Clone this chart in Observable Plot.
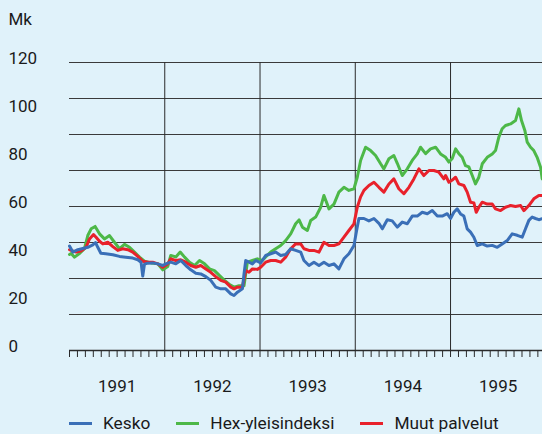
<!DOCTYPE html>
<html><head><meta charset="utf-8">
<script src="https://cdn.jsdelivr.net/npm/d3@7"></script>
<script src="https://cdn.jsdelivr.net/npm/@observablehq/plot@0.6"></script>
<style>
html,body{margin:0;padding:0;background:#e0f2fa;}
#wrap{width:542px;height:434px;overflow:hidden;position:relative;font-family:Roboto,sans-serif;color:#1a1a1a;}
#legend{display:flex;align-items:center;height:38px;padding-left:69px;gap:26px;font-size:17.3px;}
#legend .it{display:flex;align-items:center;gap:11px;}
#legend .sw{width:23px;height:3px;display:inline-block;}
</style></head>
<body><div id="wrap"><div id="chart"></div><div id="legend"></div></div>
<script>
const seriesNames = ["Kesko", "Hex-yleisindeksi", "Muut palvelut"];
const seriesColors = ["#3a6fb7", "#4db848", "#e8212b"];
const yTicks = [0, 20, 40, 60, 80, 100, 120];
const gridValues = [15, 30, 45, 60, 75, 90, 105, 120];
const yearBounds = [1992, 1993, 1994, 1995];
const yearLabels = ["1991", "1992", "1993", "1994", "1995"];
const unitLabel = "Mk";

// [decimal year, value]
const kesko = [
[1991.00,43.5],[1991.035,41],[1991.087,42],[1991.14,42.5],[1991.192,43],[1991.245,44],[1991.273,45],[1991.297,43],
[1991.329,40.5],[1991.381,40.3],[1991.455,39.9],[1991.525,39.2],[1991.591,38.9],[1991.664,38.5],[1991.717,37.8],
[1991.751,36.8],[1991.769,31],[1991.787,36],[1991.822,36.4],[1991.874,36.5],[1991.927,36.1],[1991.979,35.4],
[1992.010,36.1],[1992.063,36.8],[1992.116,36.1],[1992.168,37.5],[1992.221,35.4],[1992.273,33.6],[1992.326,32.2],
[1992.378,31.9],[1992.431,30.8],[1992.483,29.2],[1992.535,26.4],[1992.588,25.7],[1992.640,25.7],[1992.693,23.6],
[1992.727,22.9],[1992.763,24.3],[1992.815,25.7],[1992.832,31.9],[1992.850,37.5],[1992.884,36.8],[1992.920,36.1],
[1992.955,37.5],[1993.007,36.5],[1993.059,39.6],[1993.112,40.3],[1993.164,41],[1993.217,39.6],[1993.269,40],
[1993.322,42.4],[1993.374,41.7],[1993.427,41],[1993.461,37.5],[1993.514,35.4],[1993.566,36.8],[1993.619,35.4],
[1993.671,36.8],[1993.724,35.4],[1993.776,36.1],[1993.828,34],[1993.881,38.2],[1993.933,40.3],[1993.986,43.75],
[1994.014,50],[1994.038,55],[1994.091,55],[1994.143,54],[1994.196,55],[1994.248,53],[1994.284,50.7],[1994.336,54.5],
[1994.388,54],[1994.441,51.4],[1994.493,53.5],[1994.546,52.8],[1994.598,56],[1994.651,56],[1994.703,57.6],
[1994.756,57],[1994.808,58.3],[1994.861,56],[1994.913,56],[1994.965,57],[1995.000,55],[1995.035,57.6],[1995.070,59],
[1995.105,56.9],[1995.140,56],[1995.175,50.7],[1995.210,49.3],[1995.245,47.2],[1995.280,43.75],[1995.333,44.4],
[1995.385,43.5],[1995.438,43.8],[1995.490,43],[1995.542,44.4],[1995.595,45.8],[1995.647,48.6],[1995.700,48],
[1995.752,47.2],[1995.787,50.7],[1995.822,54.2],[1995.857,55.6],[1995.892,55],[1995.927,54.5],[1995.962,54.9]
];
const hex = [
[1991.00,40],[1991.017,40.4],[1991.053,38.9],[1991.108,40.5],[1991.157,42.4],[1991.192,47.9],[1991.227,50.7],
[1991.269,51.7],[1991.315,48.6],[1991.367,46.5],[1991.420,47.9],[1991.472,45.1],[1991.525,42.4],[1991.577,44.2],
[1991.630,43],[1991.682,41],[1991.735,38.9],[1991.787,37.2],[1991.857,36.5],[1991.927,36.1],[1991.979,33.6],
[1992.031,35],[1992.063,39.6],[1992.116,39],[1992.162,41],[1992.208,38.9],[1992.260,36.8],[1992.313,35.4],
[1992.365,37.5],[1992.418,36.1],[1992.470,34],[1992.522,33.3],[1992.575,31.2],[1992.627,29.2],[1992.680,27.5],
[1992.727,26.4],[1992.780,27],[1992.832,27],[1992.867,36.8],[1992.920,37.5],[1992.972,38.2],[1993.024,37.5],
[1993.059,39],[1993.112,41],[1993.164,42.4],[1993.217,43.75],[1993.269,45.8],[1993.322,48.6],[1993.374,52.8],
[1993.410,54.4],[1993.445,51.4],[1993.497,50],[1993.532,54.2],[1993.584,55.6],[1993.637,59.7],[1993.671,64.6],
[1993.724,59],[1993.776,61],[1993.828,66],[1993.881,68],[1993.933,66.7],[1993.986,67.4],[1994.021,72.2],
[1994.056,79.2],[1994.108,84.7],[1994.161,83.3],[1994.213,81.25],[1994.266,77.8],[1994.300,75.7],[1994.353,79.9],
[1994.405,81.25],[1994.441,78],[1994.493,72.9],[1994.546,75.7],[1994.598,79.2],[1994.651,81.9],[1994.685,84.7],
[1994.738,82],[1994.790,84],[1994.843,84.7],[1994.895,81.9],[1994.948,80.5],[1994.983,78.5],[1995.018,80],
[1995.053,84],[1995.087,82],[1995.122,80.5],[1995.157,77],[1995.192,76.5],[1995.228,72.9],[1995.262,69.4],
[1995.297,72.2],[1995.333,77.8],[1995.385,80.5],[1995.438,81.9],[1995.472,83.3],[1995.507,88.9],[1995.542,92.4],
[1995.577,93.75],[1995.630,94.4],[1995.682,95.8],[1995.717,100.7],[1995.745,95.8],[1995.780,91.7],[1995.805,86.8],
[1995.840,84.7],[1995.874,83.3],[1995.909,80.5],[1995.945,76.4],[1995.962,71.5]
];
const muut = [
[1991.00,42],[1991.017,41.7],[1991.07,41],[1991.119,41.4],[1991.174,43],[1991.21,46.5],[1991.252,48.3],
[1991.279,47.2],[1991.315,45.5],[1991.35,44.4],[1991.402,45.1],[1991.455,43.3],[1991.507,41.7],[1991.559,42.4],
[1991.612,42],[1991.664,41],[1991.717,39.2],[1991.769,37.2],[1991.822,36.8],[1991.874,36.8],[1991.927,36.1],
[1991.979,34.7],[1992.031,36],[1992.063,38.2],[1992.116,37.5],[1992.168,37.8],[1992.221,36.8],[1992.273,35.4],
[1992.326,34.7],[1992.378,35.4],[1992.431,34],[1992.483,32.6],[1992.535,30.8],[1992.588,29.2],[1992.640,28.5],
[1992.693,26.4],[1992.727,25.7],[1992.763,26.4],[1992.815,26.4],[1992.850,33.3],[1992.884,32.6],[1992.920,34],
[1992.972,33.8],[1993.007,34.7],[1993.059,36.8],[1993.112,37.5],[1993.164,37.5],[1993.217,36.8],[1993.269,38.9],
[1993.322,42.4],[1993.374,44.4],[1993.427,44.4],[1993.461,42.4],[1993.514,41.7],[1993.566,41.7],[1993.619,41],
[1993.671,45.1],[1993.724,43.75],[1993.776,43.75],[1993.828,44.4],[1993.881,47.2],[1993.933,50],[1993.986,52.8],
[1994.021,59.7],[1994.056,64],[1994.091,66.7],[1994.143,68.75],[1994.196,70.1],[1994.248,68],[1994.300,66],
[1994.353,69.4],[1994.405,71.5],[1994.457,67.4],[1994.510,65.3],[1994.563,68],[1994.615,71.5],[1994.668,75.7],
[1994.720,72.9],[1994.773,75],[1994.825,75],[1994.877,74.3],[1994.930,71.5],[1994.948,72.9],[1994.983,70.1],
[1995.018,71],[1995.053,72.2],[1995.087,69.4],[1995.140,68.75],[1995.175,66],[1995.210,61.8],[1995.245,61.5],
[1995.270,57.6],[1995.297,59.7],[1995.333,61.8],[1995.385,61],[1995.438,61],[1995.472,59],[1995.525,58.3],
[1995.577,59.7],[1995.630,60.4],[1995.682,60],[1995.735,60.4],[1995.770,58.3],[1995.822,60.4],[1995.874,63.2],
[1995.927,64.6],[1995.962,64.6]
];

const monthTicks = d3.range(0, 60).map(k => 1991 + k / 12);
const yearMid = yearLabels.map(y => ({t: +y + 0.5, label: y}));
const txt = {fontFamily: "Roboto, sans-serif", fontSize: 17, fill: "#1a1a1a"};
const lw = 3;

const chart = Plot.plot({
  width: 542, height: 404,
  marginLeft: 69, marginRight: -3.3, marginTop: 62, marginBottom: 54,
  style: {background: "transparent", overflow: "hidden", fontFamily: "Roboto, sans-serif"},
  x: {domain: [1991, 1996], axis: null},
  y: {domain: [0, 120], axis: null},
  marks: [
    Plot.ruleY(gridValues, {stroke: "#3a3a3a", strokeWidth: 1}),
    Plot.ruleX(yearBounds, {y1: 0, y2: 120, stroke: "#2a2a2a", strokeWidth: 1}),
    Plot.line(hex, {x: d => d[0], y: d => d[1], stroke: seriesColors[1], strokeWidth: lw, strokeLinejoin: "round"}),
    Plot.line(muut, {x: d => d[0], y: d => d[1], stroke: seriesColors[2], strokeWidth: lw, strokeLinejoin: "round"}),
    Plot.line(kesko, {x: d => d[0], y: d => d[1], stroke: seriesColors[0], strokeWidth: lw, strokeLinejoin: "round"}),
    Plot.ruleY([0], {stroke: "#2a2a2a", strokeWidth: 1.5}),
    Plot.axisX(monthTicks, {anchor: "bottom", tickSize: 7, tickFormat: () => "", stroke: "#2a2a2a", label: null}),
    Plot.text(yearMid, {x: "t", text: "label", frameAnchor: "bottom", dy: 36, lineAnchor: "middle", ...txt}),
    Plot.text(yTicks, {y: d => d, text: d => String(d), frameAnchor: "left", dx: -61, dy: -4, textAnchor: "start", lineAnchor: "middle", ...txt}),
    Plot.text([unitLabel], {text: d => d, frameAnchor: "top-left", dx: -61, dy: -43, textAnchor: "start", lineAnchor: "middle", ...txt})
  ]
});
document.getElementById("chart").appendChild(chart);

const legend = document.getElementById("legend");
seriesNames.forEach((n, i) => {
  const it = document.createElement("div"); it.className = "it";
  const sw = document.createElement("span"); sw.className = "sw"; sw.style.background = seriesColors[i];
  const t = document.createElement("span"); t.textContent = n;
  it.appendChild(sw); it.appendChild(t); legend.appendChild(it);
});
</script>
</body></html>
